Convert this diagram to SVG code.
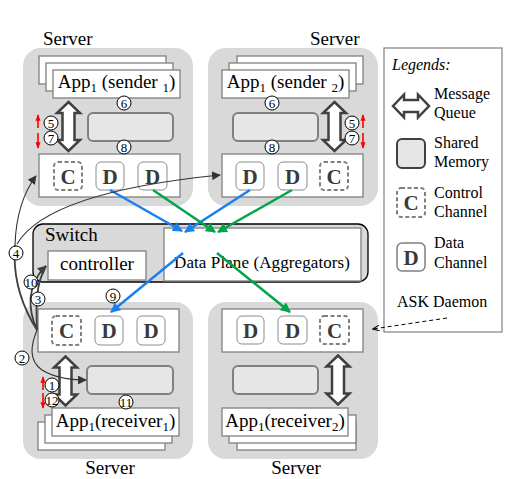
<svg xmlns="http://www.w3.org/2000/svg" xmlns:xlink="http://www.w3.org/1999/xlink" width="512" height="479" viewBox="0 0 512 479" font-family="'Liberation Serif', 'DejaVu Serif', serif">
<style>
text{font-family:"Liberation Serif","DejaVu Serif",serif;fill:#000}
.srv{fill:#d9d9d9}
.box{fill:#fff;stroke:#808080;stroke-width:1.3}
.shm{fill:#e6e6e6;stroke:#808080;stroke-width:2}
.cch{fill:#fff;stroke:#808080;stroke-width:2;stroke-dasharray:4 2.5}
.dch{fill:#fff;stroke:#8c8c8c;stroke-width:1}
.ch{font-size:21px;font-weight:bold;fill:#3a3a3a;text-anchor:middle}
.mq{fill:#fff;stroke:#404040;stroke-width:2.5;stroke-linejoin:miter}
.lbl{font-size:19px}
.app{font-size:19px;text-anchor:middle}
.sub{font-size:13px}
.num circle{fill:#fff;stroke:#000;stroke-width:1}
.num text{font-size:13px;text-anchor:middle}
.leg{font-size:16px}
.red{stroke:#ff0000;stroke-width:1.6;fill:none}
.blue{stroke:#1a80f0;stroke-width:2.5;fill:none}
.green{stroke:#00a54a;stroke-width:2.5;fill:none}
.ctl{stroke:#404040;stroke-width:1.8;fill:none}
.thin{stroke:#333;stroke-width:1.1;fill:none}
</style>
<defs>
<path id="mqv" d="M0,-24.5 L11.5,-13.5 L6,-13.5 L6,13.5 L11.5,13.5 L0,24.5 L-11.5,13.5 L-6,13.5 L-6,-13.5 L-11.5,-13.5 Z"/>
<marker id="ab" viewBox="0 0 10 10" refX="9" refY="5" markerWidth="4" markerHeight="4" orient="auto" markerUnits="strokeWidth"><path d="M0,0 L10,5 L0,10 Z" fill="#1a80f0"/></marker>
<marker id="ag" viewBox="0 0 10 10" refX="9" refY="5" markerWidth="4" markerHeight="4" orient="auto" markerUnits="strokeWidth"><path d="M0,0 L10,5 L0,10 Z" fill="#00a54a"/></marker>
<marker id="ak" viewBox="0 0 10 10" refX="9" refY="5" markerWidth="5" markerHeight="5" orient="auto" markerUnits="strokeWidth"><path d="M0,0 L10,5 L0,10 Z" fill="#404040"/></marker>
<marker id="akt" viewBox="0 0 10 10" refX="9" refY="5" markerWidth="8" markerHeight="8" orient="auto" markerUnits="strokeWidth"><path d="M0,0 L10,5 L0,10 Z" fill="#333"/></marker>
<marker id="ar" viewBox="0 0 10 10" refX="9" refY="5" markerWidth="4" markerHeight="4" orient="auto" markerUnits="strokeWidth"><path d="M0,1 L10,5 L0,9 Z" fill="#ff0000"/></marker>
<marker id="ao" viewBox="0 0 10 10" refX="9" refY="5" markerWidth="7" markerHeight="7" orient="auto" markerUnits="strokeWidth"><path d="M0,1 L10,5 L0,9" fill="none" stroke="#000" stroke-width="1.5"/></marker>
</defs>

<g id="server-sender1">
<rect class="srv" x="23" y="48" width="170" height="158" rx="18"/>
<text class="lbl" x="43" y="45">Server</text>
<rect class="box" x="39" y="56" width="127" height="28"/>
<rect class="box" x="46" y="63" width="127" height="28"/>
<rect class="box" x="53" y="70" width="127" height="28"/>
<text class="app" x="116.5" y="88">App<tspan class="sub" dy="4">1</tspan><tspan dy="-4"> (sender </tspan><tspan class="sub" dy="4">1</tspan><tspan dy="-4">)</tspan></text>
<use xlink:href="#mqv" href="#mqv" x="68.5" y="126.5" class="mq"/>
<rect class="shm" x="88" y="113" width="85" height="28" rx="5"/>
<rect class="box" x="39" y="154" width="141" height="43"/>
<rect class="cch" x="54" y="162" width="28" height="28" rx="4"/>
<text class="ch" x="68" y="184">C</text>
<rect class="dch" x="96" y="162" width="28" height="28" rx="5"/>
<text class="ch" x="110" y="184">D</text>
<rect class="dch" x="138" y="162" width="29" height="28" rx="5"/>
<text class="ch" x="152.5" y="184">D</text>
<path class="red" d="M38,128 L38,115" marker-end="url(#ar)"/>
<path class="red" d="M38,133 L38,148" marker-end="url(#ar)"/>
</g>

<g id="server-sender2">
<rect class="srv" x="208" y="48" width="170" height="158" rx="18"/>
<text class="lbl" x="310" y="45">Server</text>
<rect class="box" x="237" y="56" width="126" height="28"/>
<rect class="box" x="229" y="63" width="127" height="28"/>
<rect class="box" x="222" y="70" width="127" height="28"/>
<text class="app" x="285.5" y="88">App<tspan class="sub" dy="4">1</tspan><tspan dy="-4"> (sender </tspan><tspan class="sub" dy="4">2</tspan><tspan dy="-4">)</tspan></text>
<use xlink:href="#mqv" href="#mqv" x="334.5" y="126.5" class="mq"/>
<rect class="shm" x="233" y="113" width="85" height="28" rx="5"/>
<rect class="box" x="222" y="154" width="141" height="43"/>
<rect class="dch" x="236" y="162" width="28" height="28" rx="5"/>
<text class="ch" x="250" y="184">D</text>
<rect class="dch" x="278" y="162" width="29" height="28" rx="5"/>
<text class="ch" x="292.5" y="184">D</text>
<rect class="cch" x="320" y="162" width="28" height="28" rx="4"/>
<text class="ch" x="334" y="184">C</text>
<path class="red" d="M363,128 L363,115" marker-end="url(#ar)"/>
<path class="red" d="M363,133 L363,148" marker-end="url(#ar)"/>
</g>

<g id="switch">
<rect x="33" y="224" width="335" height="58" rx="10" fill="#d9d9d9" stroke="#000" stroke-width="1.3"/>
<text x="45" y="241" font-size="19">Switch</text>
<rect class="box" x="48" y="251" width="98" height="29"/>
<text x="97" y="270" font-size="19" text-anchor="middle">controller</text>
<rect class="box" x="164" y="228" width="197" height="53"/>
<text x="262" y="268" font-size="17" text-anchor="middle" textLength="176">Data Plane (Aggregators)</text>
</g>

<g id="server-receiver1">
<rect class="srv" x="23" y="302" width="170" height="157" rx="18"/>
<text class="lbl" x="110" y="474" text-anchor="middle">Server</text>
<rect class="box" x="38" y="309" width="141" height="43"/>
<rect class="cch" x="52" y="316" width="29" height="29" rx="4"/>
<text class="ch" x="66.5" y="338">C</text>
<rect class="dch" x="95" y="316" width="28" height="29" rx="5"/>
<text class="ch" x="109" y="338">D</text>
<rect class="dch" x="137" y="316" width="28" height="29" rx="5"/>
<text class="ch" x="151" y="338">D</text>
<use xlink:href="#mqv" href="#mqv" x="65.5" y="381" class="mq"/>
<rect class="shm" x="87" y="366" width="86" height="28" rx="5"/>
<rect class="box" x="38" y="422" width="127" height="28"/>
<rect class="box" x="45" y="415" width="127" height="28"/>
<rect class="box" x="52" y="408" width="127" height="28"/>
<text class="app" x="115.5" y="427">App<tspan class="sub" dy="4">1</tspan><tspan dy="-4">(receiver</tspan><tspan class="sub" dy="4">1</tspan><tspan dy="-4">)</tspan></text>
<path class="red" d="M43,390 L43,377" marker-end="url(#ar)"/>
<path class="red" d="M43,393 L43,408" marker-end="url(#ar)"/>
</g>

<g id="server-receiver2">
<rect class="srv" x="208" y="302" width="170" height="157" rx="18"/>
<text class="lbl" x="296" y="474" text-anchor="middle">Server</text>
<rect class="box" x="222" y="309" width="141" height="43"/>
<rect class="dch" x="237" y="316" width="27" height="28" rx="5"/>
<text class="ch" x="250.5" y="338">D</text>
<rect class="dch" x="278" y="316" width="29" height="28" rx="5"/>
<text class="ch" x="292.5" y="338">D</text>
<rect class="cch" x="320" y="316" width="29" height="28" rx="4"/>
<text class="ch" x="334.5" y="338">C</text>
<rect class="shm" x="233" y="366" width="85" height="28" rx="5"/>
<use xlink:href="#mqv" href="#mqv" x="338" y="380" class="mq"/>
<rect class="box" x="237" y="422" width="119" height="28"/>
<rect class="box" x="229" y="415" width="127" height="28"/>
<rect class="box" x="222" y="408" width="126" height="28"/>
<text class="app" x="285" y="427">App<tspan class="sub" dy="4">1</tspan><tspan dy="-4">(receiver</tspan><tspan class="sub" dy="4">2</tspan><tspan dy="-4">)</tspan></text>
</g>

<g id="legend">
<rect x="384" y="48" width="118" height="284" fill="#fff" stroke="#808080" stroke-width="1.2"/>
<text class="leg" x="392" y="70" font-size="17" font-style="italic">Legends:</text>
<path class="mq" d="M393,106 L404,94.5 L404,100 L418,100 L418,94.5 L429,106 L418,117.5 L418,112 L404,112 L404,117.5 Z"/>
<text class="leg" x="434" y="99">Message</text>
<text class="leg" x="434" y="118">Queue</text>
<rect x="397" y="139" width="28" height="29" rx="5" fill="#e6e6e6" stroke="#404040" stroke-width="2"/>
<text class="leg" x="434" y="148">Shared</text>
<text class="leg" x="434" y="167">Memory</text>
<rect class="cch" x="397" y="188" width="28" height="29" rx="4"/>
<text class="ch" x="411" y="210">C</text>
<text class="leg" x="434" y="198">Control</text>
<text class="leg" x="434" y="217">Channel</text>
<rect x="397" y="243" width="28" height="28" rx="5" fill="#fff" stroke="#808080" stroke-width="1.5"/>
<text class="ch" x="411" y="265">D</text>
<text class="leg" x="434" y="248">Data</text>
<text class="leg" x="434" y="268">Channel</text>
<text class="leg" x="397" y="307" font-size="17">ASK Daemon</text>
</g>

<g id="connectors">
<path class="blue" d="M110,190 L182,231" marker-end="url(#ab)"/>
<path class="blue" d="M250,190 L185,232" marker-end="url(#ab)"/>
<path class="green" d="M153,190 L215,232" marker-end="url(#ag)"/>
<path class="green" d="M292,190 L218,232" marker-end="url(#ag)"/>
<path class="blue" d="M183,253 L111,312" marker-end="url(#ab)"/>
<path class="green" d="M217,253 L290,312" marker-end="url(#ag)"/>
<path class="ctl" d="M37,330 C28,310 26,285 46,266" marker-end="url(#ak)"/>
<path class="ctl" d="M37,330 C36,308 35,285 46,266"/>
<path class="ctl" d="M37,330 C18,300 13,270 15,245"/>
<path class="thin" d="M15,245 C16,215 24,192 36,176" marker-end="url(#akt)"/>
<path class="thin" d="M17,244 C40,205 120,185 220,175" marker-end="url(#akt)"/>
<path class="thin" d="M37,330 C31,345 28,360 42,370 C55,378 70,380 86,380" marker-end="url(#akt)"/>
<path d="M447,318 L373,329" fill="none" stroke="#000" stroke-width="1" stroke-dasharray="4 3" marker-end="url(#ao)"/>
</g>

<g id="step-labels" class="num">
<circle cx="124" cy="103" r="7"/><text x="124" y="107.5">6</text>
<circle cx="124" cy="147" r="7"/><text x="124" y="151.5">8</text>
<circle cx="51" cy="123" r="7"/><text x="51" y="127.5">5</text>
<circle cx="51" cy="138" r="7"/><text x="51" y="142.5">7</text>
<circle cx="272" cy="103" r="7"/><text x="272" y="107.5">6</text>
<circle cx="272" cy="147" r="7"/><text x="272" y="151.5">8</text>
<circle cx="352" cy="123" r="7"/><text x="352" y="127.5">5</text>
<circle cx="352" cy="138" r="7"/><text x="352" y="142.5">7</text>
<circle cx="16" cy="253" r="7"/><text x="16" y="257.5">4</text>
<circle cx="31" cy="282" r="7"/><text x="31" y="286.5">10</text>
<circle cx="38" cy="299" r="7"/><text x="38" y="303.5">3</text>
<circle cx="113" cy="296" r="7"/><text x="113" y="300.5">9</text>
<circle cx="22" cy="358" r="7"/><text x="22" y="362.5">2</text>
<circle cx="52" cy="385" r="7"/><text x="52" y="389.5">1</text>
<circle cx="52" cy="400" r="7"/><text x="52" y="404.5">12</text>
<circle cx="126" cy="402" r="7"/><text x="126" y="406.5">11</text>
</g>
</svg>
